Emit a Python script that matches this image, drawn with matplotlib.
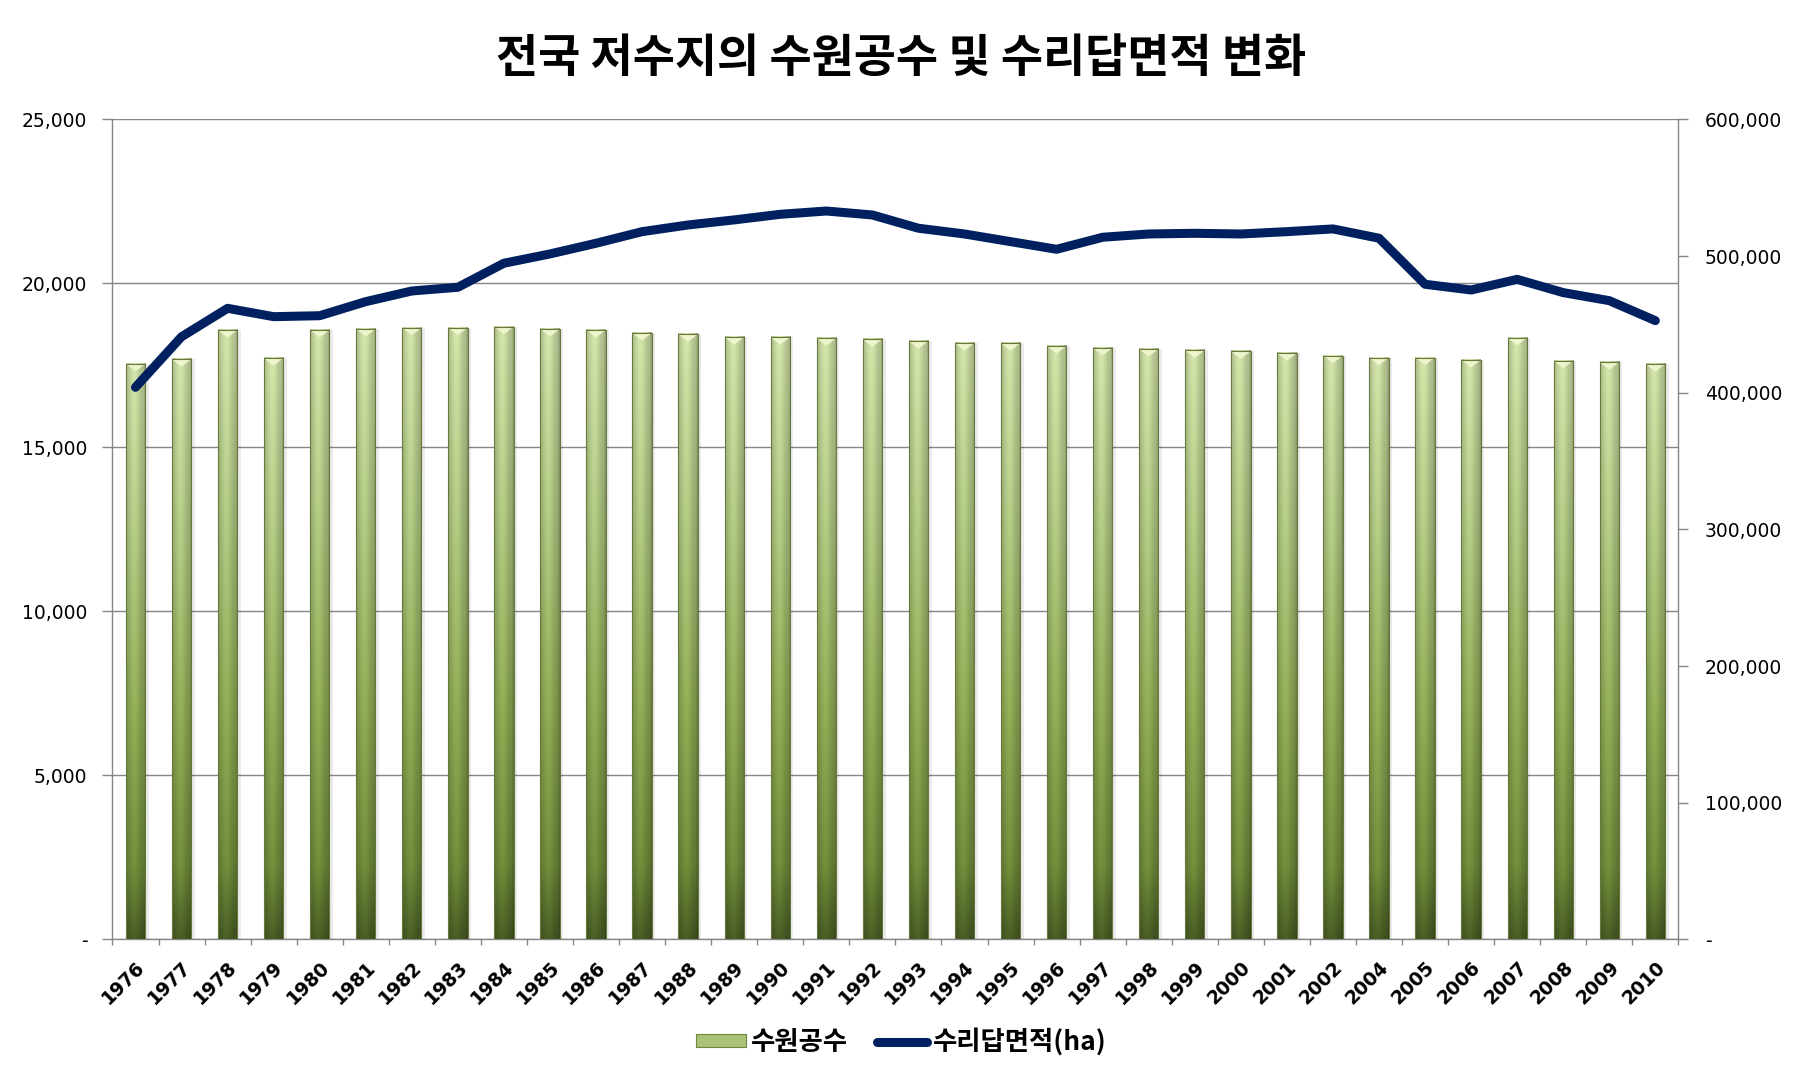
import matplotlib
matplotlib.use("Agg")
import matplotlib.pyplot as plt
import numpy as np
from matplotlib.colors import LinearSegmentedColormap
from matplotlib.patches import Patch, Polygon, Rectangle
from matplotlib.lines import Line2D
from matplotlib.ticker import FuncFormatter

plt.rcParams['font.family'] = ['DejaVu Sans']
KR = ['Noto Sans CJK KR', 'DejaVu Sans']

years = ['1976', '1977', '1978', '1979', '1980', '1981', '1982', '1983', '1984',
         '1985', '1986', '1987', '1988', '1989', '1990', '1991', '1992', '1993',
         '1994', '1995', '1996', '1997', '1998', '1999', '2000', '2001', '2002',
         '2004', '2005', '2006', '2007', '2008', '2009', '2010']

# 수원공수 (left axis)
sources = [17550, 17690, 18580, 17720, 18580, 18610, 18650, 18650, 18680,
           18610, 18580, 18490, 18450, 18360, 18360, 18330, 18300, 18240,
           18180, 18180, 18090, 18030, 18000, 17960, 17930, 17870, 17800,
           17740, 17740, 17670, 18340, 17640, 17600, 17540]

# 수리답면적(ha) (right axis)
area = [404000, 441000, 461800, 455700, 456400, 466700, 474500, 477200, 494800,
        501600, 509400, 517900, 522800, 526500, 530600, 533000, 530100, 520400,
        516200, 510600, 505000, 513800, 516200, 516700, 516200, 517900, 519900,
        513100, 479400, 475200, 483000, 473300, 467400, 452800]

title = '전국 저수지의 수원공수 및 수리답면적 변화'
bar_label = '수원공수'
line_label = '수리답면적(ha)'

grid_c = '#868686'
line_c = '#002060'

fig = plt.figure(figsize=(18.02, 10.79), dpi=100)
ax = fig.add_axes([0.0624, 0.1293, 0.869, 0.76])
x = np.arange(len(years))

# gradient used to fill each bar
green = LinearSegmentedColormap.from_list(
    'g', [(0.0, '#d0e2a8'), (0.3, '#b2ca84'), (0.6, '#93ae58'),
          (0.88, '#718d3b'), (1.0, '#4a5e25')])
ny, nx = 200, 40
vert = green(np.linspace(0, 1, ny))[:, :3]
xs = np.linspace(0, 1, nx)
prof = 0.82 + 0.2 * np.exp(-((xs - 0.42) / 0.3) ** 2)
prof[-3:] *= 0.87
grad = np.clip(vert[:, None, :] * prof[None, :, None], 0, 1)

bars = ax.bar(x, sources, width=0.42, color='none', edgecolor='#66783c',
              linewidth=0.8, zorder=4)
for b in bars:
    x0, w, h = b.get_x(), b.get_width(), b.get_height()
    ax.add_patch(Rectangle((x0 + w, 0), w * 0.18, h, facecolor='#000000',
                           alpha=0.08, edgecolor='none', zorder=2))
    ax.imshow(grad, extent=[x0, x0 + w, 0, h], aspect='auto', zorder=3,
              interpolation='bilinear')
    ax.add_patch(Polygon([(x0, h), (x0 + w, h), (x0 + w / 2, h - 230)],
                         closed=True, facecolor='#eef5cc', edgecolor='none',
                         zorder=3.5))

ax.set_xlim(-0.5, len(years) - 0.5)
ax.set_ylim(0, 25000)
ax.set_yticks(np.arange(0, 25001, 5000))
fmt = FuncFormatter(lambda v, p: '-' if v == 0 else f'{int(v):,}')
ax.yaxis.set_major_formatter(fmt)
ax.yaxis.grid(True, color=grid_c, linewidth=1.0)
ax.set_axisbelow(True)

ax.set_xticks(x)
ax.set_xticklabels(years, rotation=45, ha='right', rotation_mode='anchor',
                   fontsize=13.5, fontweight='bold')
ax.set_xticks(np.arange(-0.5, len(years), 1), minor=True)
ax.tick_params(axis='x', which='major', length=0, pad=13)
ax.tick_params(axis='x', which='minor', length=4.5, color=grid_c, width=1)
ax.tick_params(axis='y', length=7, color=grid_c, width=1, labelsize=13.5,
               pad=11)
for s in ['top', 'right']:
    ax.spines[s].set_visible(False)
for s in ['left', 'bottom']:
    ax.spines[s].set_color(grid_c)
    ax.spines[s].set_linewidth(1.0)

ax2 = ax.twinx()
ax2.plot(x, area, color=line_c, linewidth=6.5, solid_capstyle='round',
         solid_joinstyle='round', zorder=5)
ax2.set_ylim(0, 600000)
ax2.set_yticks(np.arange(0, 600001, 100000))
ax2.yaxis.set_major_formatter(fmt)
ax2.tick_params(axis='y', length=7, color=grid_c, width=1, labelsize=13.5,
                pad=12)
for s in ['top', 'left', 'bottom']:
    ax2.spines[s].set_visible(False)
ax2.spines['right'].set_color(grid_c)
ax2.spines['right'].set_linewidth(1.0)

fig.text(0.5, 0.945, title, ha='center', va='center', fontsize=33,
         fontweight='bold', family=KR)

handles = [Patch(facecolor='#a9c276', edgecolor='#6f8540', linewidth=0.8),
           Line2D([0], [0], color=line_c, linewidth=6.5,
                  solid_capstyle='round')]
fig.legend(handles, [bar_label, line_label], loc='center',
           bbox_to_anchor=(0.5, 0.034), ncol=2, frameon=False,
           prop={'family': KR, 'size': 19, 'weight': 'bold'},
           handlelength=1.9, handleheight=0.4, handletextpad=0.2,
           columnspacing=1.1)

fig.savefig('out.png', dpi=100)
